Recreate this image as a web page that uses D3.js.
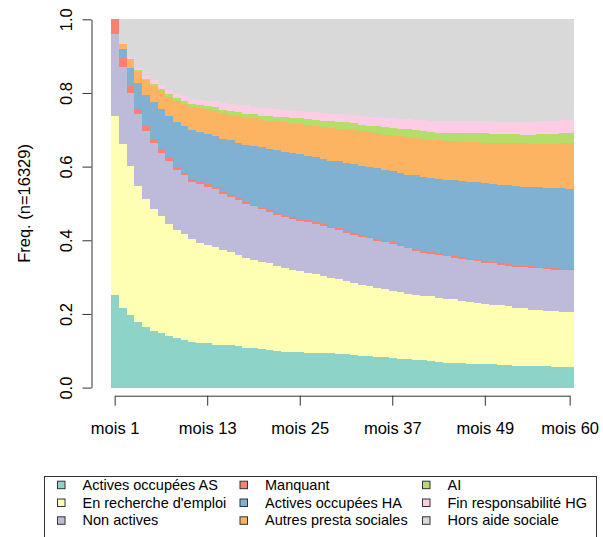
<!DOCTYPE html>
<html>
<head>
<meta charset="utf-8">
<script src="https://cdn.jsdelivr.net/npm/d3@7"></script>
<style>
  body { margin: 0; background: #fff; }
  svg { display: block; }
  text { font-family: "Liberation Sans", Arial, Helvetica, sans-serif; fill: #000; }
</style>
</head>
<body>
<svg id="chart" width="603" height="537"></svg>
<script>
// Monthly state distribution (share of the n=16329 sequences in each state)
const months = d3.range(1, 61).map(i => "mois " + i);
const tickMonths = ["mois 1", "mois 13", "mois 25", "mois 37", "mois 49", "mois 60"];
const yTicks = [0, 0.2, 0.4, 0.6, 0.8, 1.0];

const stateNames = [
  "Actives occupées AS", "En recherche d'emploi", "Non actives",
  "Manquant", "Actives occupées HA", "Autres presta sociales",
  "AI", "Fin responsabilité HG", "Hors aide sociale"
];
const stateColors = ["#8DD3C7", "#FFFFB3", "#BEBADA", "#FB8072", "#80B1D3",
                     "#FDB462", "#B3DE69", "#FCCDE5", "#D9D9D9"];

const activesAS = [.251,.215,.197,.177,.164,.154,.147,.140,.134,.130,.124,.122,.120,.117,.115,.115,.112,.108,.107,.104,
  .102,.099,.097,.097,.096,.095,.095,.094,.093,.092,.090,.088,.087,.085,.083,.082,.081,.079,.077,.076,
  .074,.072,.070,.068,.067,.066,.065,.064,.063,.063,.062,.061,.060,.059,.058,.058,.058,.057,.056,.055];
const rechercheEmploi = [.487,.446,.405,.371,.349,.332,.318,.304,.294,.286,.279,.271,.267,.264,.258,.253,.248,.243,.239,.236,
  .235,.231,.228,.223,.220,.216,.213,.208,.205,.202,.199,.196,.192,.190,.187,.185,.182,.181,.178,.175,
  .176,.176,.174,.173,.173,.170,.168,.167,.165,.162,.161,.160,.157,.156,.154,.153,.151,.150,.150,.149];
const nonActives = [.223,.209,.199,.194,.184,.179,.173,.170,.164,.160,.156,.159,.159,.158,.152,.150,.150,.148,.146,.144,
  .139,.139,.137,.139,.137,.139,.136,.137,.134,.133,.132,.131,.131,.130,.129,.128,.126,.124,.123,.121,
  .116,.115,.115,.115,.112,.113,.113,.112,.111,.112,.111,.110,.111,.112,.114,.113,.113,.113,.112,.114];
const manquant = [.039,.026,.019,.015,.013,.011,.010,.009,.008,.008,.008,.006,.006,.007,.006,.005,.004,.004,.005,.005,
  .005,.005,.005,.005,.005,.005,.005,.005,.004,.005,.004,.005,.004,.005,.005,.004,.005,.004,.005,.004,
  .005,.004,.005,.004,.005,.005,.004,.004,.005,.004,.004,.004,.005,.004,.004,.004,.004,.005,.005,.004];
const activesHA = [0,.024,.049,.070,.085,.099,.109,.115,.122,.127,.133,.135,.137,.138,.145,.149,.151,.157,.159,.163,
  .168,.172,.174,.172,.175,.173,.177,.178,.180,.182,.185,.186,.189,.189,.192,.192,.193,.196,.195,.200,
  .200,.201,.203,.205,.206,.206,.208,.210,.211,.212,.213,.214,.215,.215,.215,.216,.217,.217,.218,.218];
const autresPresta = [0,.013,.023,.031,.040,.045,.049,.052,.057,.059,.062,.067,.067,.068,.069,.069,.072,.073,.076,.075,
  .075,.076,.079,.081,.082,.084,.084,.086,.089,.089,.092,.093,.093,.094,.095,.096,.098,.099,.102,.101,
  .103,.105,.105,.105,.106,.108,.109,.109,.110,.111,.113,.115,.115,.117,.117,.118,.119,.120,.122,.123];
const ai = [0,0,0,.004,.003,.005,.005,.007,.007,.007,.008,.007,.008,.009,.009,.010,.010,.011,.010,.011,
  .014,.014,.014,.015,.016,.017,.017,.017,.018,.019,.018,.019,.018,.018,.018,.020,.020,.020,.021,.022,
  .023,.021,.020,.021,.022,.023,.023,.024,.025,.025,.025,.024,.025,.024,.025,.026,.027,.027,.027,.027];
const finRespHG = [0,0,.003,.005,.008,.009,.011,.011,.012,.014,.014,.014,.015,.016,.018,.019,.021,.022,.021,.022,
  .020,.020,.020,.020,.019,.020,.020,.021,.021,.021,.021,.021,.023,.025,.026,.026,.026,.026,.027,.028,
  .029,.031,.033,.033,.033,.033,.033,.033,.033,.033,.033,.034,.034,.035,.035,.035,.035,.036,.036,.037];
const horsAide = [0,.067,.105,.133,.154,.166,.178,.192,.202,.209,.216,.219,.221,.223,.228,.230,.232,.234,.237,.240,
  .242,.244,.246,.248,.250,.251,.253,.254,.256,.257,.259,.261,.263,.264,.265,.267,.269,.271,.272,.273,
  .274,.275,.275,.276,.276,.276,.277,.277,.277,.278,.278,.278,.278,.278,.278,.277,.276,.275,.274,.273];

const series = [activesAS, rechercheEmploi, nonActives, manquant, activesHA,
                autresPresta, ai, finRespHG, horsAide];

// one row per month, one column per state
const table = months.map((m, i) => {
  const row = { month: m };
  stateNames.forEach((s, k) => { row[s] = series[k][i]; });
  return row;
});

const svg = d3.select("#chart");
const FS_AXIS = 16.5, FS_LEG = 14.5;

const x = d3.scaleBand().domain(months).range([111.3, 574]).padding(0);
const y = d3.scaleLinear().domain([0, 1]).range([387.6, 19.3]);

const stacked = d3.stack().keys(stateNames)(table);

// stacked bars
svg.append("g")
  .selectAll("g")
  .data(stacked)
  .join("g")
    .attr("fill", (d, i) => stateColors[i])
  .selectAll("rect")
  .data(d => d)
  .join("rect")
    .attr("shape-rendering", "crispEdges")
    .attr("x", d => x(d.data.month))
    .attr("width", x.bandwidth() + 0.4)
    .attr("y", d => y(d[1]))
    .attr("height", d => Math.max(0, y(d[0]) - y(d[1])));

// y axis
const yAxis = svg.append("g")
  .attr("transform", "translate(91.5,0)")
  .call(d3.axisLeft(y).tickValues(yTicks).tickSize(9).tickSizeOuter(0).tickFormat(d3.format(".1f")));
yAxis.select(".domain").attr("stroke", "#333");
yAxis.selectAll(".tick line").attr("stroke", "#333");
yAxis.selectAll(".tick text")
  .attr("font-size", FS_AXIS)
  .attr("font-family", null)
  .attr("text-anchor", "middle")
  .attr("x", null).attr("dy", null)
  .attr("transform", "translate(-19.5,0) rotate(-90)");

svg.append("text")
  .attr("transform", `translate(30,${(y(0) + y(1)) / 2}) rotate(-90)`)
  .attr("text-anchor", "middle")
  .attr("font-size", FS_AXIS)
  .text("Freq. (n=16329)");

// x axis (line spans first to last labelled month)
const axisY = 395.7;
const xAxis = svg.append("g")
  .attr("transform", `translate(0,${axisY})`)
  .call(d3.axisBottom(x).tickValues(tickMonths).tickSize(10).tickSizeOuter(0));
xAxis.select(".domain").remove();
const cx = m => x(m) + x.bandwidth() / 2;
xAxis.append("line")
  .attr("x1", cx(tickMonths[0])).attr("x2", cx(tickMonths[tickMonths.length - 1]))
  .attr("y1", 0.5).attr("y2", 0.5)
  .attr("stroke", "#333");
xAxis.selectAll(".tick line").attr("stroke", "#333");
xAxis.selectAll(".tick text")
  .attr("font-size", FS_AXIS)
  .attr("font-family", null)
  .attr("y", 38.3).attr("dy", null);

// legend
const leg = svg.append("g");
leg.append("rect")
  .attr("x", 44.5).attr("y", 476.5)
  .attr("width", 552).attr("height", 80)
  .attr("fill", "none").attr("stroke", "#333");

const colX = [82.5, 265, 447.5];
const rowY = [489.7, 507.5, 525.3];
stateNames.forEach((s, k) => {
  const col = Math.floor(k / 3), row = k % 3;
  const tx = colX[col], ty = rowY[row];
  leg.append("rect")
    .attr("x", tx - 25).attr("y", ty - 8.5)
    .attr("width", 7.5).attr("height", 7.5)
    .attr("fill", stateColors[k])
    .attr("stroke", "#333").attr("stroke-width", 1);
  leg.append("text")
    .attr("x", tx).attr("y", ty)
    .attr("font-size", FS_LEG)
    .text(s);
});
</script>
</body>
</html>
